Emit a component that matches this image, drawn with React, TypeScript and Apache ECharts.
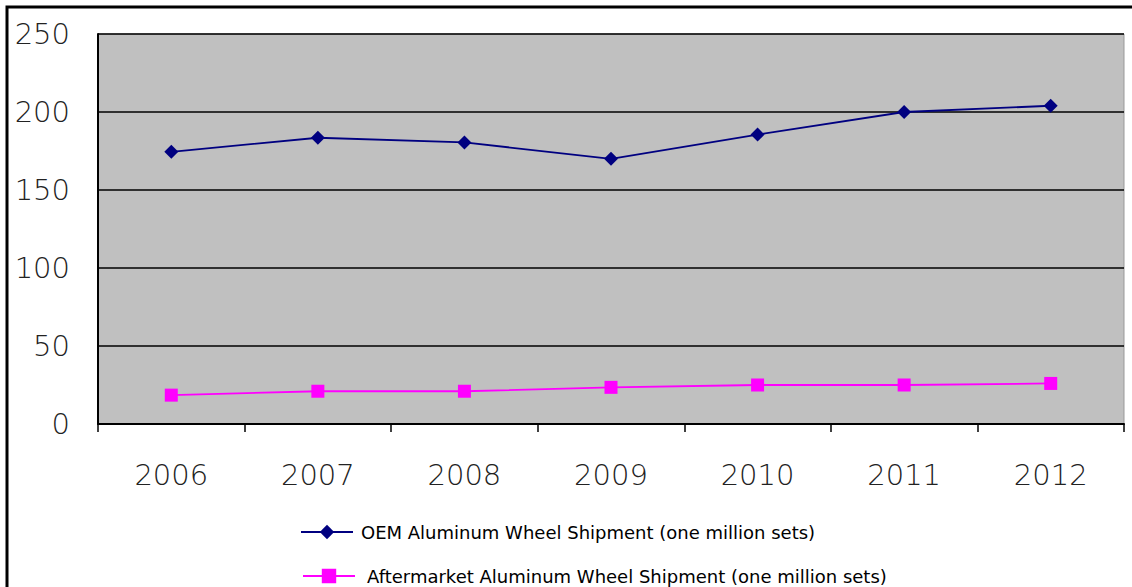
import React, { useEffect, useRef } from "react";
import * as echarts from "echarts";

const years = ["2006", "2007", "2008", "2009", "2010", "2011", "2012"];
const oemName = "OEM Aluminum Wheel Shipment (one million sets)";
const afterName = "Aftermarket Aluminum Wheel Shipment (one million sets)";
const oemValues = [174.5, 183.5, 180.5, 170, 185.5, 200, 204];
const afterValues = [18.5, 21, 21, 23.5, 25, 25, 26];
const yTicks = { min: 0, max: 250, interval: 50 };

export default function App() {
  const ref = useRef<HTMLDivElement>(null);
  useEffect(() => {
    if (!ref.current) return;
    const chart = echarts.init(ref.current, null, { renderer: "svg" });
    const axisFont = { fontFamily: "DejaVu Sans", fontWeight: 200 as any, fontSize: 29, color: "#222" };
    const legendFont = { fontFamily: "DejaVu Sans", fontSize: 18, color: "#000" };
    chart.setOption({
      animation: false,
      backgroundColor: "#fff",
      graphic: [
        {
          type: "rect",
          shape: { x: 7, y: 7, width: 1140, height: 600 },
          style: { fill: "none", stroke: "#000", lineWidth: 3 },
          z: 100,
        },
      ],
      grid: {
        left: 98,
        top: 34,
        right: 8,
        bottom: 163,
        show: true,
        backgroundColor: "#c0c0c0",
        borderColor: "#999",
        borderWidth: 1,
      },
      legend: [
        {
          data: [oemName],
          left: 300,
          top: 523,
          padding: 0,
          itemWidth: 52,
          itemHeight: 18,
          textStyle: { ...legendFont, padding: [0, 0, 0, 3] },
        },
        {
          data: [afterName],
          left: 302,
          top: 567,
          padding: 0,
          itemWidth: 52,
          itemHeight: 18,
          textStyle: { ...legendFont, padding: [0, 0, 0, 7] },
        },
      ],
      xAxis: {
        type: "category",
        data: years,
        boundaryGap: true,
        axisLine: { lineStyle: { color: "#000", width: 2 } },
        axisTick: { show: true, length: 8, lineStyle: { color: "#000", width: 1.5 } },
        axisLabel: { ...axisFont, margin: 36 },
        splitLine: { show: false },
      },
      yAxis: {
        type: "value",
        min: yTicks.min,
        max: yTicks.max,
        interval: yTicks.interval,
        axisLine: { show: true, lineStyle: { color: "#000", width: 2 } },
        axisTick: { show: false },
        axisLabel: { ...axisFont, margin: 28 },
        splitLine: { show: true, lineStyle: { color: "#000", width: 1.5 } },
      },
      series: [
        {
          name: oemName,
          type: "line",
          data: oemValues,
          symbol: "diamond",
          symbolSize: 14,
          color: "#000080",
          lineStyle: { color: "#000080", width: 1.8 },
          itemStyle: { color: "#000080" },
        },
        {
          name: afterName,
          type: "line",
          data: afterValues,
          symbol: "rect",
          symbolSize: 13,
          color: "#ff00ff",
          lineStyle: { color: "#ff00ff", width: 1.8 },
          itemStyle: { color: "#ff00ff" },
        },
      ],
    });
    return () => chart.dispose();
  }, []);
  return (
    <div
      ref={ref}
      style={{ position: "absolute", left: 0, top: 0, width: 1132, height: 587 }}
    />
  );
}
